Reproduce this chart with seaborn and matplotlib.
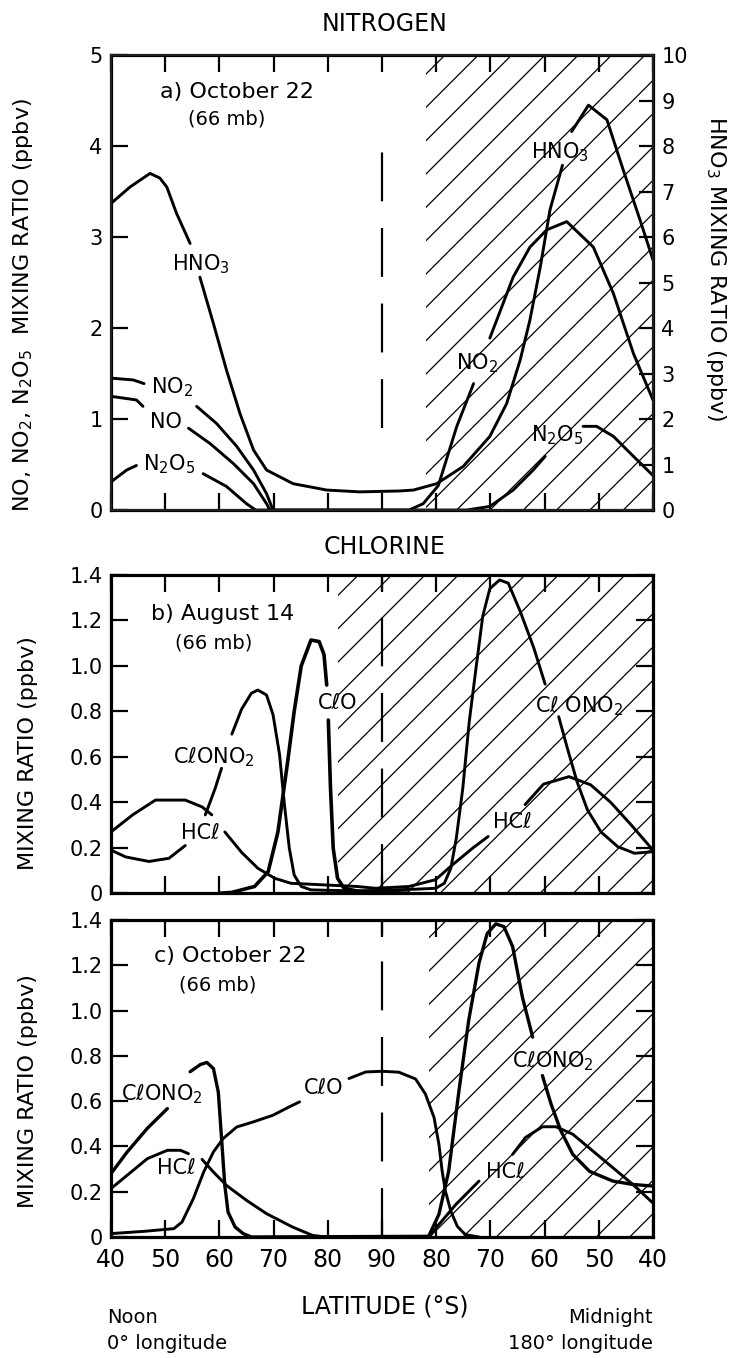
import numpy as np
import matplotlib
matplotlib.use('Agg')
import matplotlib.pyplot as plt
import seaborn as sns

nan = np.nan

# x runs along the flight track: 0 = 40S (noon) ... 50 = pole ... 100 = 40S (midnight)
lat_ticks = [0, 10, 20, 30, 40, 50, 60, 70, 80, 90, 100]
lat_labels = ['40', '50', '60', '70', '80', '90', '80', '70', '60', '50', '40']

# ---- a) nitrogen, October 22 ----
a_no2_x = [0, 4.1, 6.1, nan, 15.8, 19.5, 23.2, 26.3, 28.7, 29.9, 55, 57.6, 60.4, 63.8, 66.9,
           nan, 69.9, 74.2, 77.3, 80.4, 84.1, 89, 92.7, 96.4, 100]
a_no2_y = [1.45, 1.43, 1.39, nan, 1.14, 0.95, 0.70, 0.44, 0.18, 0, 0, 0.07, 0.27, 0.92, 1.39,
           nan, 1.89, 2.56, 2.89, 3.08, 3.17, 2.89, 2.38, 1.72, 1.21]
a_no_x = [0, 4.7, 5.9, nan, 14.3, 18.3, 22.6, 26.3, 28.7, 29.3]
a_no_y = [1.25, 1.21, 1.14, nan, 0.90, 0.73, 0.51, 0.29, 0.07, 0]
a_n2o5_x = [0, 2.9, 4.7, nan, 17, 21.3, 25, 26.7, 65.6, 69.9, 74.2, 77.9, 80.1,
            nan, 87.1, 89.6, 92.7, 96.4, 100]
a_n2o5_y = [0.31, 0.44, 0.49, nan, 0.40, 0.26, 0.07, 0, 0, 0.04, 0.22, 0.44, 0.59,
            nan, 0.92, 0.92, 0.81, 0.59, 0.38]
a_hno3_x = [0, 3.5, 7.2, 9.0, 10.3, 12.1, 14.6, nan, 16.4, 18.9, 21.3, 23.8, 26.3, 28.7, 33.6,
            39.8, 45.9, 53.3, 55.8, 60.1, 65, 69.9, 73, 75.5, 77.3, 79.2, 81, 83.3,
            nan, 85, 88.1, 91.5, 94.5, 97.6, 100]
a_hno3_y = [6.74, 7.1, 7.4, 7.3, 7.1, 6.52, 5.86, nan, 5.12, 4.1, 3.08, 2.12, 1.32, 0.88, 0.58,
            0.44, 0.40, 0.42, 0.44, 0.58, 0.96, 1.62, 2.34, 3.3, 4.18, 5.34, 6.6, 7.58,
            nan, 8.32, 8.9, 8.58, 7.48, 6.38, 5.5]

# ---- b) chlorine, August 14 ----
b_clono2_x = [0, 2.7, 7, 10.7, 13.7, nan, 17.4, 19.2, 20.4, nan, 22.3, 24.1, 25.9, 27.1, 28.7,
              29.9, 31.1, 32, 32.9, 33.8, 35.1, 36.9, 45.4, 56.2, 59.9, 61.5, 62.7, 63.7,
              64.9, 66.1, 67.4, 68.6, 69.9, 71.7, 73.3, 75.5, 78, 80.1,
              nan, 82.6, 84.2, 86, 87.9, 90.4, 93.5, 96.6, 100]
b_clono2_y = [0.19, 0.16, 0.14, 0.154, 0.21, nan, 0.345, 0.46, 0.55, nan, 0.70, 0.81, 0.88, 0.894,
              0.872, 0.785, 0.61, 0.39, 0.198, 0.08, 0.03, 0.015, 0.01, 0.018, 0.022, 0.044,
              0.11, 0.24, 0.46, 0.755, 1.0, 1.22, 1.34, 1.378, 1.364, 1.24, 1.08, 0.92,
              nan, 0.777, 0.638, 0.49, 0.367, 0.27, 0.205, 0.176, 0.183]
b_hcl_x = [0, 4, 8.2, 13.7, 16.8, 18.6, nan, 21, 24.1, 27.1, 30.2, 33.2, 39.3, 45.4, 48.8,
           55, 59.9, 63, 66.8, 69.6, nan, 76.4, 79.8, 84.5, 88.5, 92.2, 96, 100]
b_hcl_y = [0.27, 0.345, 0.41, 0.41, 0.38, 0.345, nan, 0.27, 0.18, 0.11, 0.066, 0.044, 0.037,
           0.03, 0.022, 0.03, 0.06, 0.125, 0.2, 0.25, nan, 0.39, 0.48, 0.513, 0.477, 0.40,
           0.30, 0.19]
b_clo_x = [20, 22.3, 26.5, 29, 30.8, 32.6, 33.8, 35.1, 36.9, 38.4, 39.3, 39.8,
           nan, 40.1, 40.5, 41, 41.8, 43, 45.4, 55]
b_clo_y = [0, 0.004, 0.03, 0.095, 0.27, 0.58, 0.80, 1.0, 1.114, 1.107, 1.05, 0.916,
           nan, 0.762, 0.462, 0.198, 0.066, 0.022, 0.01, 0.0]

# ---- c) chlorine, October 22 ----
c_clono2_x = [0, 3, 6.7, 10.4, nan, 14.6, 16.5, 17.7, 18.9, 19.8, 20.4, 21, 21.6, 22.9, 24.4,
              25.9, 58.6, 60.5, 62.3, 64.2, 66, 67.9, 69.4, 71, 72.5, 74.1, 75.9, 77.8,
              nan, 79.6, 81.2, 83, 85.2, 88.3, 92.6, 96.3, 100]
c_clono2_y = [0.28, 0.376, 0.48, 0.567, nan, 0.73, 0.762, 0.771, 0.744, 0.64, 0.435, 0.228, 0.11,
              0.044, 0.015, 0.0, 0.003, 0.1, 0.29, 0.646, 0.957, 1.21, 1.34, 1.383, 1.371,
              1.283, 1.06, 0.883, nan, 0.713, 0.587, 0.469, 0.365, 0.29, 0.247, 0.232, 0.225]
c_hcl_x = [0, 3, 6.7, 10.4, 12.8, 14.3, nan, 16.8, 18.9, 21.3, 25, 28.7, 33.5, 37.2, 39.6,
           58.6, 60.5, 63.6, 67.9, nan, 74.1, 76.5, 79.6, 82.1, 85.2, 88.9, 92.6, 96.3, 100]
c_hcl_y = [0.214, 0.273, 0.346, 0.383, 0.383, 0.368, nan, 0.343, 0.287, 0.228, 0.162, 0.103,
           0.044, 0.007, 0, 0, 0.055, 0.143, 0.247, nan, 0.365, 0.44, 0.487, 0.487, 0.454,
           0.38, 0.306, 0.232, 0.15]
c_clo_x = [0, 6.1, 11.6, 13.1, 15.2, 17.1, 18.9, 20.7, 23.2, 26.2, 29.9, 32.9, 34.8,
           nan, 43.9, 47, 50, 53.1, 56.2, 58, 59.6, 60.5, 61.1, 61.7, 62.7, 63.9, 65.4, 67.9]
c_clo_y = [0.015, 0.025, 0.037, 0.066, 0.17, 0.287, 0.376, 0.435, 0.486, 0.508, 0.538, 0.575,
           0.597, nan, 0.70, 0.729, 0.732, 0.728, 0.698, 0.632, 0.528, 0.41, 0.291, 0.203,
           0.114, 0.047, 0.01, 0.0]

# start of night-time (hatched) part in each panel
night_start = [58.2, 41.9, 58.7]

sns.set_theme(style='ticks')
plt.rcParams['font.family'] = ['DejaVu Sans']
plt.rcParams['hatch.linewidth'] = 0.9
plt.rcParams['mathtext.fontset'] = 'dejavusans'
plt.rcParams['text.color'] = 'black'
plt.rcParams['axes.labelcolor'] = 'black'


def draw(ax, xs, ys, lw=2.1):
    # draw a curve, breaking it where the label sits (nan)
    xs = np.asarray(xs, float)
    ys = np.asarray(ys, float)
    breaks = np.where(np.isnan(xs))[0]
    for seg in np.split(np.arange(len(xs)), breaks):
        seg = seg[~np.isnan(xs[seg])]
        if len(seg) > 1:
            sns.lineplot(x=xs[seg], y=ys[seg], ax=ax, color='black', lw=lw,
                         sort=False, estimator=None)


def frame(ax, ymax, yticks, ylabels, start, xlabels=False, dash_span=(0, 1)):
    ax.axvspan(start, 100, facecolor='none', edgecolor='black', hatch='/', lw=0, zorder=0)
    ax.axvline(50, ymin=dash_span[0], ymax=dash_span[1], color='black', lw=1.6,
               dashes=(22, 12), zorder=1)
    ax.set_xlim(0, 100)
    ax.set_ylim(0, ymax)
    ax.set_xticks(lat_ticks)
    ax.set_xticklabels(lat_labels if xlabels else [])
    ax.set_yticks(yticks)
    ax.set_yticklabels(ylabels)
    ax.tick_params(axis='both', direction='in', length=12, width=1.6, top=True,
                   labelsize=15, pad=6, colors='black')
    ax.tick_params(axis='x', labelsize=17, pad=8)
    for s in ax.spines.values():
        s.set_linewidth(2.3)
        s.set_color('black')
    ax.set_xlabel('')
    ax.set_ylabel('')


fig = plt.figure(figsize=(7.39, 13.58), dpi=100)
ax_a = fig.add_axes([0.1502, 0.6244, 0.7334, 0.335])
ax_b = fig.add_axes([0.1502, 0.3422, 0.7334, 0.2344])
ax_c = fig.add_axes([0.1502, 0.0891, 0.7334, 0.2334])

chl_ticks = [0, 0.2, 0.4, 0.6, 0.8, 1.0, 1.2, 1.4]
chl_labels = ['0', '0.2', '0.4', '0.6', '0.8', '1.0', '1.2', '1.4']

# panel a
frame(ax_a, 5, [0, 1, 2, 3, 4, 5], ['0', '1', '2', '3', '4', '5'], night_start[0],
      dash_span=(0.18, 0.84))
ax_a2 = ax_a.twinx()
ax_a2.set_ylim(0, 10)
ax_a2.set_yticks(range(11))
ax_a2.set_yticklabels([str(v) for v in range(11)])
ax_a2.tick_params(axis='y', direction='in', length=10, width=1.6, labelsize=15, pad=6,
                  colors='black')
ax_a.tick_params(axis='y', right=False)
draw(ax_a, a_no2_x, a_no2_y)
draw(ax_a, a_no_x, a_no_y)
draw(ax_a, a_n2o5_x, a_n2o5_y)
draw(ax_a2, a_hno3_x, a_hno3_y)
ax_a2.set_ylabel('')

lab = dict(ha='center', va='center', fontsize=15, color='black')
ax_a.text(23.2, 4.6, 'a) October 22', ha='center', va='center', fontsize=16)
ax_a.text(21.4, 4.3, '(66 mb)', ha='center', va='center', fontsize=14)
ax_a.text(16.6, 2.7, 'HNO$_3$', **lab)
ax_a.text(11.3, 1.35, 'NO$_2$', **lab)
ax_a.text(10.1, 0.97, 'NO', **lab)
ax_a.text(10.7, 0.5, 'N$_2$O$_5$', **lab)
ax_a.text(82.8, 3.93, 'HNO$_3$', **lab)
ax_a.text(67.5, 1.61, 'NO$_2$', **lab)
ax_a.text(82.3, 0.82, 'N$_2$O$_5$', **lab)
ax_a.set_ylabel('NO, NO$_2$, N$_2$O$_5$  MIXING RATIO (ppbv)', fontsize=16)
ax_a.yaxis.set_label_coords(-0.14, 0.45)
ax_a2.set_ylabel('HNO$_3$ MIXING RATIO (ppbv)', fontsize=16, rotation=270, va='bottom')
ax_a2.yaxis.set_label_coords(1.095, 0.53)

# panel b
frame(ax_b, 1.4, chl_ticks, chl_labels, night_start[1])
ax_b.tick_params(axis='y', right=True)
draw(ax_b, b_clono2_x, b_clono2_y)
draw(ax_b, b_hcl_x, b_hcl_y)
draw(ax_b, b_clo_x, b_clo_y, lw=2.6)
ax_b.text(20.6, 1.228, 'b) August 14', ha='center', va='center', fontsize=16)
ax_b.text(19, 1.10, '(66 mb)', ha='center', va='center', fontsize=14)
ax_b.text(18.9, 0.6, 'CℓONO$_2$', **lab)
ax_b.text(16.5, 0.264, 'HCℓ', **lab)
ax_b.text(41.8, 0.836, 'CℓO', **lab)
ax_b.text(86.3, 0.825, 'Cℓ ONO$_2$', **lab)
ax_b.text(74.1, 0.312, 'HCℓ', **lab)
ax_b.set_ylabel('MIXING RATIO (ppbv)', fontsize=16)
ax_b.yaxis.set_label_coords(-0.135, 0.44)

# panel c
frame(ax_c, 1.4, chl_ticks, chl_labels, night_start[2], xlabels=True)
ax_c.tick_params(axis='y', right=True)
draw(ax_c, c_clono2_x, c_clono2_y, lw=2.4)
draw(ax_c, c_hcl_x, c_hcl_y)
draw(ax_c, c_clo_x, c_clo_y)
ax_c.text(22, 1.241, 'c) October 22', ha='center', va='center', fontsize=16)
ax_c.text(19.6, 1.113, '(66 mb)', ha='center', va='center', fontsize=14)
ax_c.text(9.45, 0.63, 'CℓONO$_2$', **lab)
ax_c.text(12, 0.306, 'HCℓ', **lab)
ax_c.text(39.3, 0.656, 'CℓO', **lab)
ax_c.text(81.5, 0.777, 'CℓONO$_2$', **lab)
ax_c.text(72.7, 0.288, 'HCℓ', **lab)
ax_c.set_ylabel('MIXING RATIO (ppbv)', fontsize=16)
ax_c.yaxis.set_label_coords(-0.135, 0.46)

fig.text(0.521, 0.982, 'NITROGEN', ha='center', va='center', fontsize=17)
fig.text(0.521, 0.597, 'CHLORINE', ha='center', va='center', fontsize=17)
fig.text(0.521, 0.0376, 'LATITUDE (°S)', ha='center', va='center', fontsize=17)
fig.text(0.145, 0.0295, 'Noon', ha='left', va='center', fontsize=14)
fig.text(0.145, 0.011, '0° longitude', ha='left', va='center', fontsize=14)
fig.text(0.883, 0.0295, 'Midnight', ha='right', va='center', fontsize=14)
fig.text(0.883, 0.011, '180° longitude', ha='right', va='center', fontsize=14)

fig.savefig('out.png', dpi=100, facecolor='white')
